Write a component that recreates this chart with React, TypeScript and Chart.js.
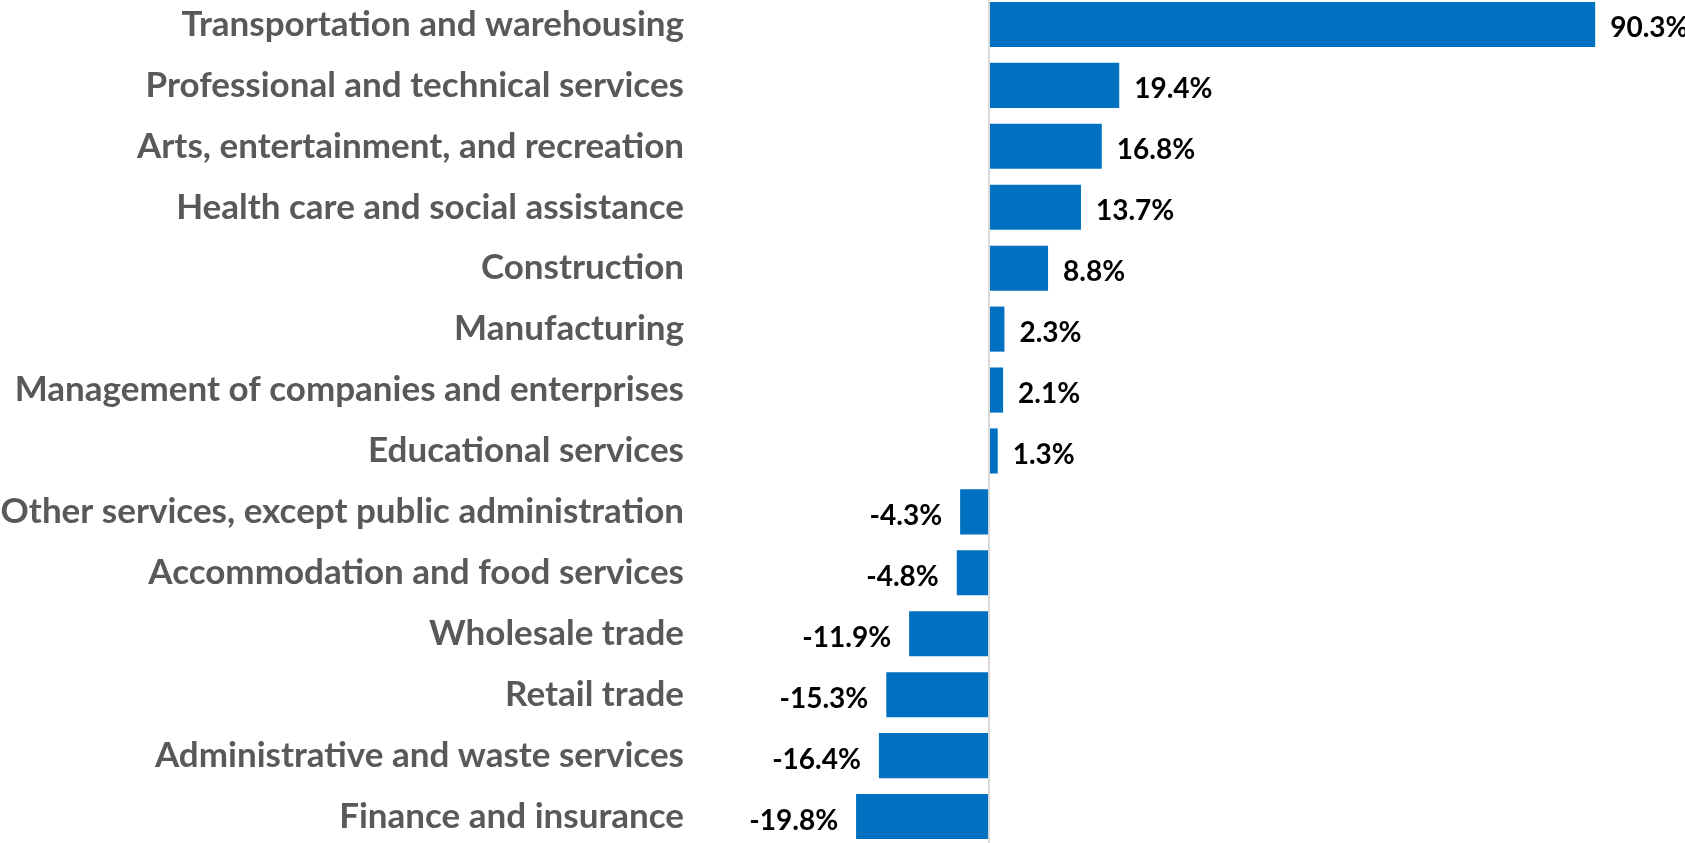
import React, { useEffect, useRef } from "react";
import { Chart, registerables } from "chart.js";

Chart.register(...registerables);

const categories: string[] = [
  "Transportation and warehousing",
  "Professional and technical services",
  "Arts, entertainment, and recreation",
  "Health care and social assistance",
  "Construction",
  "Manufacturing",
  "Management of companies and enterprises",
  "Educational services",
  "Other services, except public administration",
  "Accommodation and food services",
  "Wholesale trade",
  "Retail trade",
  "Administrative and waste services",
  "Finance and insurance",
];

const values: number[] = [90.3, 19.4, 16.8, 13.7, 8.8, 2.3, 2.1, 1.3, -4.3, -4.8, -11.9, -15.3, -16.4, -19.8];

const FONT = "Lato";

const labelPlugin = {
  id: "valueLabels",
  afterDatasetsDraw(chart: any) {
    const ctx = chart.ctx;
    const meta = chart.getDatasetMeta(0);
    ctx.save();
    ctx.font = `bold 28px ${FONT}`;
    ctx.fillStyle = "#000000";
    ctx.textBaseline = "middle";
    meta.data.forEach((bar: any, i: number) => {
      const v = values[i];
      const txt = v.toFixed(1) + "%";
      if (v >= 0) {
        ctx.textAlign = "left";
        ctx.fillText(txt, bar.x + 15, bar.y + 4);
      } else {
        ctx.textAlign = "right";
        ctx.fillText(txt, bar.x - 18, bar.y + 4);
      }
    });
    ctx.restore();
  },
};

export default function App() {
  const ref = useRef<HTMLCanvasElement | null>(null);
  useEffect(() => {
    if (!ref.current) return;
    const chart = new Chart(ref.current, {
      type: "bar",
      data: {
        labels: categories,
        datasets: [
          {
            data: values,
            backgroundColor: "#0070c0",
            borderWidth: 0,
            barPercentage: 0.74,
            categoryPercentage: 1,
          },
        ],
      },
      options: {
        indexAxis: "y",
        animation: false,
        responsive: true,
        maintainAspectRatio: false,
        layout: { padding: 0 },
        plugins: { legend: { display: false }, tooltip: { enabled: false } },
        scales: {
          x: {
            min: -43.05,
            max: 103.68,
            border: { display: false },
            ticks: { display: false, padding: 0 },
            afterBuildTicks: (scale: any) => {
              scale.ticks = [{ value: 0 }];
            },
            afterFit: (scale: any) => {
              scale.height = 0;
              scale.paddingLeft = 0;
              scale.paddingRight = 0;
            },
            grid: {
              drawTicks: false,
              color: (c: any) => (c.tick && c.tick.value === 0 ? "#d9d9d9" : "rgba(0,0,0,0)"),
              lineWidth: 2,
            },
          },
          y: {
            border: { display: false },
            grid: { display: false, drawTicks: false },
            afterFit: (scale: any) => {
              scale.width = 700;
              scale.paddingTop = 0;
              scale.paddingBottom = 0;
            },
            ticks: {
              autoSkip: false,
              padding: 16,
              color: "#595959",
              font: { family: FONT, weight: "bold", size: 35 },
            },
          },
        },
      },
      plugins: [labelPlugin],
    });
    return () => chart.destroy();
  }, []);
  return (
    <div style={{ position: "fixed", left: 0, top: -6, width: 1685, height: 853 }}>
      <canvas ref={ref} />
    </div>
  );
}
